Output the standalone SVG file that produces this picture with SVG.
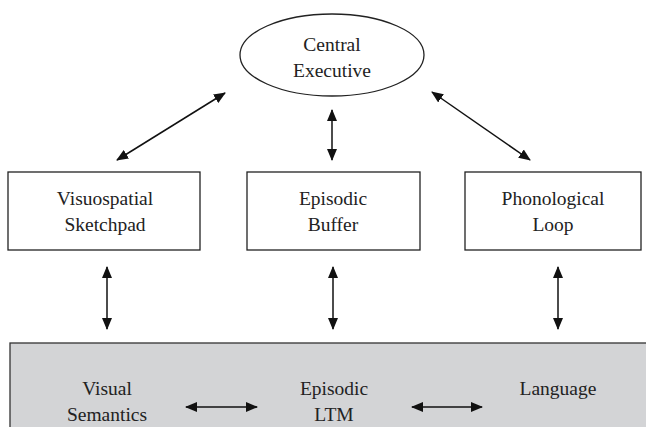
<svg xmlns="http://www.w3.org/2000/svg" width="646" height="427" viewBox="0 0 646 427">
<defs>
<marker id="ah" viewBox="0 0 12 12" refX="11" refY="6" markerWidth="12" markerHeight="12" markerUnits="userSpaceOnUse" orient="auto-start-reverse">
<path d="M0,1 L12,6 L0,11 Z" fill="#111"/>
</marker>
<style>
.lbl{font-family:"Liberation Serif","DejaVu Serif",serif;font-size:19.5px;fill:#222;text-anchor:middle}
.box{fill:#fff;stroke:#222;stroke-width:1.3}
.con{stroke:#111;stroke-width:1.5;fill:none;marker-start:url(#ah);marker-end:url(#ah)}
</style>
</defs>
<rect width="646" height="427" fill="#fff"/>
<g id="ltm">
<rect x="10" y="343" width="640" height="90" fill="#d3d4d6" stroke="#333" stroke-width="1.3"/>
</g>
<g id="central-executive">
<ellipse cx="332" cy="55" rx="92" ry="41" class="box"/>
<text class="lbl" x="332" y="51">Central</text>
<text class="lbl" x="332" y="77">Executive</text>
</g>
<g id="visuospatial">
<rect x="8" y="172" width="192" height="78" class="box"/>
<text class="lbl" x="105" y="205">Visuospatial</text>
<text class="lbl" x="105" y="231">Sketchpad</text>
</g>
<g id="episodic-buffer">
<rect x="247" y="172" width="173" height="78" class="box"/>
<text class="lbl" x="333" y="205">Episodic</text>
<text class="lbl" x="333" y="231">Buffer</text>
</g>
<g id="phonological">
<rect x="465" y="172" width="176" height="78" class="box"/>
<text class="lbl" x="553" y="205">Phonological</text>
<text class="lbl" x="553" y="231">Loop</text>
</g>
<g id="visual-semantics">
<text class="lbl" x="107" y="395">Visual</text>
<text class="lbl" x="107" y="421">Semantics</text>
</g>
<g id="episodic-ltm">
<text class="lbl" x="334" y="395">Episodic</text>
<text class="lbl" x="334" y="421">LTM</text>
</g>
<g id="language">
<text class="lbl" x="558" y="395">Language</text>
</g>
<g id="connectors">
<line class="con" x1="117" y1="160" x2="225" y2="93"/>
<line class="con" x1="332" y1="110" x2="332" y2="160"/>
<line class="con" x1="432" y1="92" x2="530" y2="160"/>
<line class="con" x1="107" y1="267" x2="107" y2="329"/>
<line class="con" x1="333" y1="267" x2="333" y2="329"/>
<line class="con" x1="558" y1="267" x2="558" y2="329"/>
<line class="con" x1="186" y1="407" x2="257" y2="407"/>
<line class="con" x1="412" y1="407" x2="482" y2="407"/>
</g>
</svg>
